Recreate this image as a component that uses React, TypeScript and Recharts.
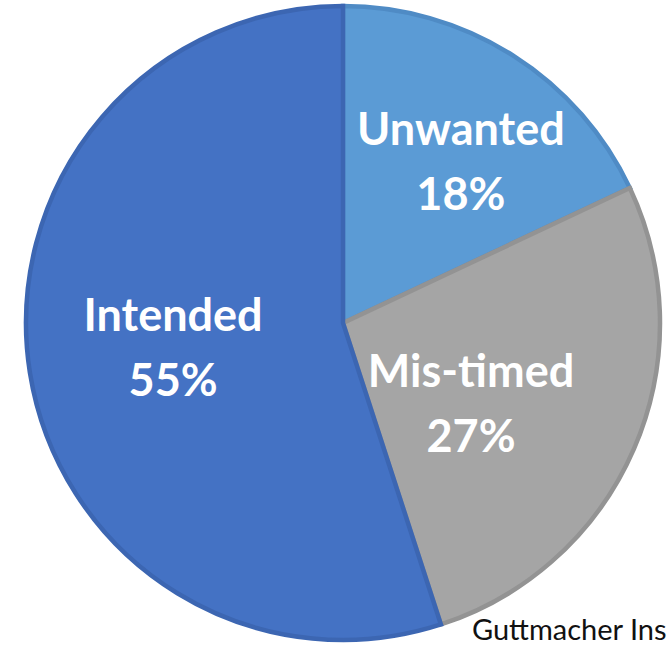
import { PieChart, Pie, Cell } from 'recharts'

const SEGMENTS = ['Unwanted', 'Mis-timed', 'Intended']
const SHARES = [18, 27, 55]

const FILLS = ['#5b9bd5', '#a5a5a5', '#4472c4']
const STROKES = ['#4f8bc5', '#939393', '#3c66b2']

// label placement per slice: radius fraction and angle nudge (deg) from the slice middle
const LABEL_POS = [
  { r: 0.591, da: -6.6 },
  { r: 0.505, da: -13.5 },
  { r: 0.551, da: 4.4 },
]

const data = SEGMENTS.map((name, i) => ({ name, value: SHARES[i] }))

const RAD = Math.PI / 180

function SliceLabel(props: any) {
  const { cx, cy, midAngle, outerRadius, index, name, value } = props
  const pos = LABEL_POS[index]
  const a = midAngle + pos.da
  const r = outerRadius * pos.r
  const x = cx + r * Math.cos(-a * RAD)
  const y = cy + r * Math.sin(-a * RAD)
  return (
    <text
      x={x}
      y={y}
      textAnchor="middle"
      fill="#ffffff"
      fontFamily="Lato, sans-serif"
      fontWeight={700}
      fontSize={45}
    >
      <tspan x={x} y={y - 32.5}>{name}</tspan>
      <tspan x={x} y={y + 32.5}>{value}%</tspan>
    </text>
  )
}

export default function App() {
  return (
    <div style={{ position: 'fixed', left: 0, top: 0, width: 670, height: 647, overflow: 'hidden', background: '#fff' }}>
      <PieChart width={670} height={647} margin={{ top: 0, right: 0, bottom: 0, left: 0 }}>
        <Pie
          data={data}
          dataKey="value"
          nameKey="name"
          cx={343}
          cy={323}
          outerRadius={317}
          startAngle={90}
          endAngle={-270}
          strokeWidth={4.5}
          label={SliceLabel}
          labelLine={false}
          isAnimationActive={false}
        >
          {data.map((d, i) => (
            <Cell key={d.name} fill={FILLS[i]} stroke={STROKES[i]} />
          ))}
        </Pie>
      </PieChart>
      <svg width={670} height={647} style={{ position: 'absolute', left: 0, top: 0, pointerEvents: 'none' }}>
        <text x={472} y={640} fontFamily="Lato, sans-serif" fontSize={29} fill="#111">
          Guttmacher Ins
        </text>
      </svg>
    </div>
  )
}
